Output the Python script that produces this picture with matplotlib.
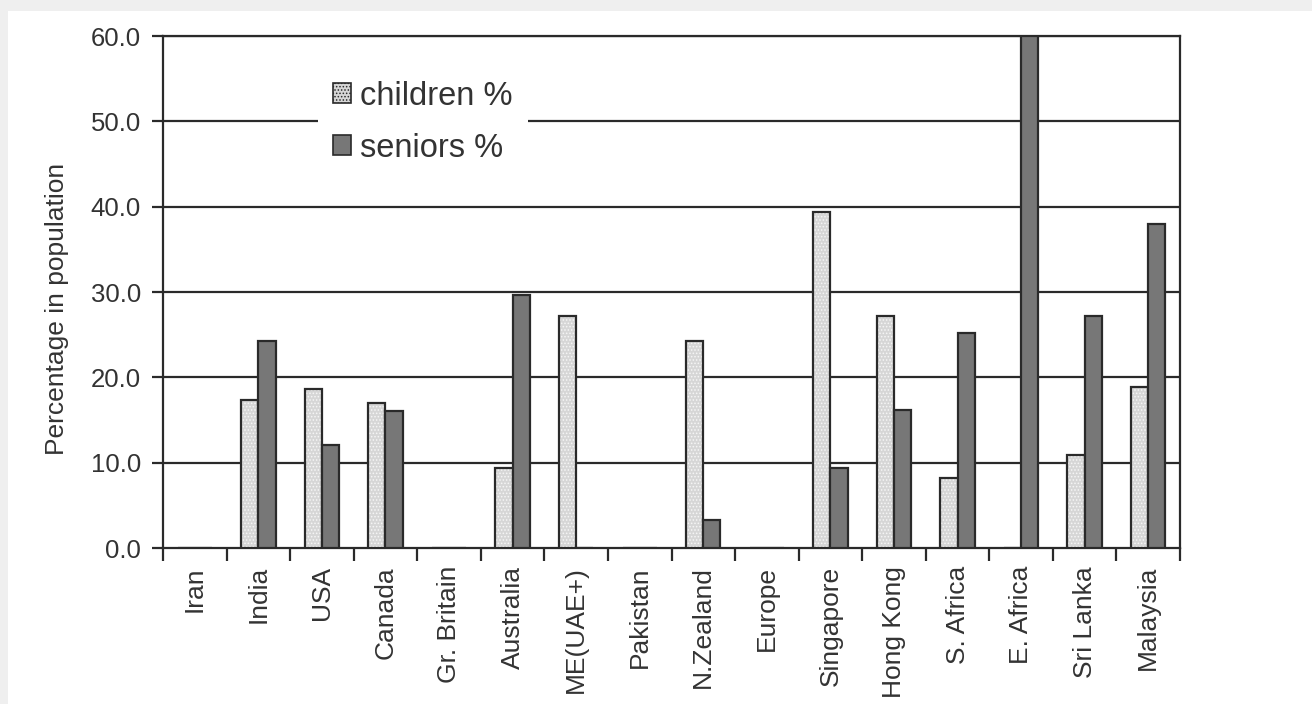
import matplotlib
matplotlib.use("Agg")
import matplotlib.pyplot as plt
import numpy as np
from matplotlib.patches import Rectangle, Patch

plt.rcParams['font.family'] = ['Liberation Sans', 'DejaVu Sans']
plt.rcParams['hatch.linewidth'] = 0.7

categories = ["Iran", "India", "USA", "Canada", "Gr. Britain", "Australia", "ME(UAE+)",
              "Pakistan", "N.Zealand", "Europe", "Singapore", "Hong Kong", "S. Africa",
              "E. Africa", "Sri Lanka", "Malaysia"]
children = [0, 17.4, 18.6, 17.0, 0, 9.4, 27.2, 0, 24.3, 0, 39.4, 27.2, 8.2, 0, 10.9, 18.9]
seniors = [0, 24.2, 12.1, 16.0, 0, 29.6, 0, 0, 3.3, 0, 9.4, 16.2, 25.2, 60.0, 27.2, 38.0]
yticks = [0, 10, 20, 30, 40, 50, 60]
ytick_labels = ["0.0", "10.0", "20.0", "30.0", "40.0", "50.0", "60.0"]

W, H = 1312, 704
fig = plt.figure(figsize=(W / 100, H / 100), dpi=100)
fig.patch.set_facecolor('#efefef')
fig.patches.append(Rectangle((8 / W, 0), 1 - 8 / W, 1 - 11 / H, transform=fig.transFigure,
                             facecolor='white', edgecolor='none', zorder=-5))

ax = fig.add_axes([163 / W, 1 - 548 / H, (1180 - 163) / W, (548 - 36) / H])
ax.set_facecolor('white')
line_c = '#2a2a2a'

x = np.arange(len(categories))
w = 0.27
ch_face = '#d6d6d6'
sn_face = '#777777'

ax.bar(x - w / 2, children, w, color=ch_face, hatch='.....', edgecolor='#f6f6f6',
       linewidth=0, zorder=3)
ax.bar(x - w / 2, children, w, fill=False, edgecolor=line_c, linewidth=1.6, zorder=4)
ax.bar(x + w / 2, seniors, w, color=sn_face, edgecolor=line_c, linewidth=1.6, zorder=4)

ax.set_xlim(-0.5, len(categories) - 0.5)
ax.set_ylim(0, 60)
ax.set_yticks(yticks)
ax.set_yticklabels(ytick_labels)
for yv in yticks[1:]:
    ax.axhline(yv, color=line_c, linewidth=1.6, zorder=2)

ax.set_xticks(x)
ax.set_xticklabels(categories, rotation=90, va='top', ha='center')
ax.set_xticks(np.arange(len(categories) + 1) - 0.5, minor=True)
ax.tick_params(axis='x', which='major', length=0, pad=13, labelsize=19, labelcolor='#333333')
ax.tick_params(axis='x', which='minor', length=9, width=1.6, color=line_c, direction='out')
ax.tick_params(axis='y', length=8, width=1.6, color=line_c, pad=8, labelsize=18.5,
               labelcolor='#333333')
for s in ax.spines.values():
    s.set_color(line_c)
    s.set_linewidth(1.6)

fig.text(57 / W, 1 - 309 / H, "Percentage in population", rotation=90, ha='center',
         va='center', fontsize=19, color='#333333')

handles = [Patch(facecolor=ch_face, hatch='.....', edgecolor=line_c, linewidth=1.2),
           Patch(facecolor=sn_face, edgecolor=line_c, linewidth=1.2)]
leg = ax.legend(handles, ["children %", "seniors %"], loc='upper left',
                bbox_to_anchor=(318 / W, 1 - 66 / H), bbox_transform=fig.transFigure,
                frameon=True, fancybox=False, framealpha=1, facecolor='white',
                edgecolor='none', fontsize=23.5, handlelength=0.55, handleheight=0.55,
                handletextpad=0.3, labelspacing=0.64, borderpad=0.45, borderaxespad=0)
for t in leg.get_texts():
    t.set_color('#333333')
leg.set_zorder(5)

fig.savefig("out.png", dpi=100, facecolor=fig.get_facecolor())
